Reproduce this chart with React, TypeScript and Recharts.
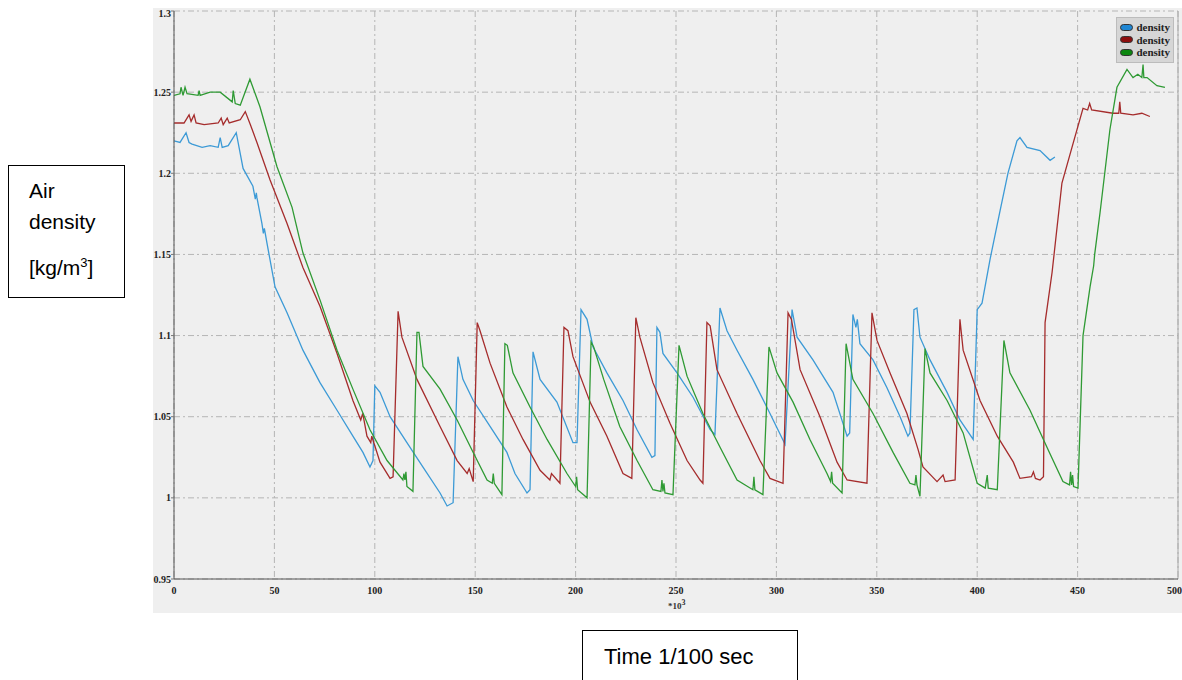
import React from 'react';
import { LineChart, Line, XAxis, YAxis, CartesianGrid, Legend, ReferenceLine } from 'recharts';

// [time (*10^3 / 100 s), density kg/m3]
const blueSeries = [
  [0, 1.22], [3, 1.219], [6, 1.225], [7.5, 1.219], [9, 1.218], [14, 1.216], [18, 1.217], [22, 1.216],
  [23, 1.222], [24, 1.216], [27, 1.217], [31, 1.225], [34.4, 1.203], [39.3, 1.192], [40.5, 1.184],
  [41, 1.188], [41.3, 1.185], [43.8, 1.169], [44.5, 1.163], [45, 1.166], [46.3, 1.157], [50.3, 1.13],
  [56.3, 1.114], [64.2, 1.091], [72.7, 1.071], [81.2, 1.054], [89.1, 1.038], [94.1, 1.028],
  [97.6, 1.019], [99.1, 1.023], [100, 1.069], [102.6, 1.065], [107.6, 1.05], [116, 1.034],
  [124, 1.019], [132.5, 1.003], [136, 0.995], [139, 0.997], [141.4, 1.087], [143.9, 1.073],
  [149, 1.06], [157.4, 1.044], [165.8, 1.028], [169.8, 1.015], [175.8, 1.003], [177.3, 1.005],
  [178.8, 1.09], [182.3, 1.073], [190.7, 1.059], [198.7, 1.034], [200.7, 1.034], [202.7, 1.116],
  [205.7, 1.11], [208.7, 1.093], [215.6, 1.077], [223.6, 1.06], [230.6, 1.042], [238, 1.025],
  [239.5, 1.026], [240.5, 1.105], [242, 1.102], [243.5, 1.089], [250.5, 1.077], [258.5, 1.062],
  [267, 1.042], [269.4, 1.039], [271.9, 1.117], [275.4, 1.103], [280.4, 1.091], [288.3, 1.073],
  [296.8, 1.052], [304.3, 1.033], [307.8, 1.116], [310.3, 1.099], [318.2, 1.085], [328.2, 1.065],
  [335.2, 1.038], [336.5, 1.04], [338.1, 1.113], [339.6, 1.105], [340.3, 1.11], [341.6, 1.095],
  [348.1, 1.085], [355, 1.068], [361.6, 1.05], [365.5, 1.038], [366.5, 1.04], [368.5, 1.116],
  [370, 1.117], [371.5, 1.099], [376.5, 1.085], [385, 1.065], [391.4, 1.048], [398, 1.036],
  [400, 1.116], [402.4, 1.12], [406.4, 1.147], [411.4, 1.177], [415.3, 1.2], [419.8, 1.22],
  [421.3, 1.222], [424.8, 1.216], [431.3, 1.214], [436.3, 1.208], [438.7, 1.21],
];

const redSeries = [
  [0, 1.231], [5, 1.231], [7.5, 1.236], [8.5, 1.232], [10, 1.236], [11, 1.231], [15, 1.23], [22, 1.231],
  [23.5, 1.234], [24.5, 1.23], [26.5, 1.234], [27.5, 1.231], [33, 1.233], [35.5, 1.238], [38, 1.23],
  [41.3, 1.219], [47.8, 1.196], [56.3, 1.169], [64.2, 1.142], [72.7, 1.118], [81.2, 1.089],
  [89.1, 1.06], [93, 1.048], [94, 1.052], [96.1, 1.038], [98, 1.034], [98.5, 1.038], [102.6, 1.022],
  [107.6, 1.012], [109.1, 1.013], [111.6, 1.115], [113.5, 1.099], [121, 1.073], [132.5, 1.044],
  [141, 1.023], [146, 1.015], [147, 1.018], [149, 1.01], [151, 1.108], [152.4, 1.103], [157.4, 1.083],
  [165.8, 1.056], [173.8, 1.036], [182.3, 1.017], [187.2, 1.011], [188, 1.015], [192.2, 1.009],
  [194.2, 1.105], [196.2, 1.103], [198.7, 1.087], [207.2, 1.059], [215.6, 1.038], [223.6, 1.015],
  [228, 1.012], [230, 1.111], [232, 1.099], [238.5, 1.071], [247, 1.046], [255.5, 1.023], [262, 1.011],
  [263.4, 1.009], [265.4, 1.108], [267, 1.106], [270.4, 1.079], [280.4, 1.052], [291.8, 1.023],
  [296.8, 1.012], [303.3, 1.009], [305.8, 1.114], [307.5, 1.11], [311.8, 1.079], [321.7, 1.05],
  [330.2, 1.022], [335.2, 1.011], [345.1, 1.009], [347.6, 1.114], [350.1, 1.097], [356.6, 1.077],
  [365, 1.052], [370.5, 1.03], [373, 1.019], [380, 1.01], [383, 1.014], [384, 1.01], [389, 1.011],
  [391.4, 1.11], [393, 1.091], [401.4, 1.06], [410, 1.038], [418, 1.022], [421.3, 1.012], [427, 1.013],
  [428, 1.016], [429, 1.012], [431.3, 1.011], [433, 1.013], [433.8, 1.108], [437.3, 1.139],
  [442.2, 1.194], [447.2, 1.216], [452.7, 1.24], [455, 1.239], [456, 1.243], [457, 1.239],
  [467.6, 1.237], [470.5, 1.237], [471, 1.244], [471.5, 1.237], [477.6, 1.236], [482, 1.237], [486, 1.235],
];

const greenSeries = [
  [0, 1.248], [3, 1.249], [3.5, 1.253], [4.5, 1.248], [5.5, 1.253], [6.5, 1.249], [12, 1.248],
  [12.5, 1.251], [13, 1.248], [18, 1.25], [23, 1.25], [29, 1.244], [29.5, 1.251], [30.5, 1.243],
  [33, 1.242], [37.8, 1.258], [42.8, 1.241], [51.3, 1.204], [58.8, 1.179], [64.2, 1.151], [72.7, 1.122],
  [81.2, 1.091], [89.1, 1.067], [97.6, 1.042], [106.1, 1.023], [114, 1.011], [114.5, 1.015], [115, 1.011],
  [115.5, 1.016], [116, 1.007], [119, 1.004], [121, 1.102], [122, 1.102], [124, 1.081], [132.5, 1.067],
  [141, 1.048], [149, 1.028], [155.9, 1.011], [158.5, 1.009], [159, 1.015], [159.5, 1.009], [163.3, 1.002],
  [164.8, 1.095], [166, 1.094], [168.8, 1.077], [177.3, 1.056], [185.8, 1.036], [195.7, 1.015], [200, 1.007],
  [200.5, 1.013], [201, 1.005], [205.7, 1.0], [207.7, 1.096], [209, 1.093], [214, 1.073], [222, 1.044],
  [230.6, 1.023], [238.5, 1.005], [242.5, 1.004], [243, 1.011], [243.5, 1.004], [244, 1.009], [244.5, 1.003],
  [248.5, 1.002], [251.5, 1.094], [255.5, 1.075], [263.4, 1.052], [272, 1.031], [280.4, 1.011],
  [288.3, 1.005], [288.8, 1.013], [289.3, 1.005], [293.3, 1.002], [296.3, 1.093], [300.3, 1.077],
  [308.3, 1.059], [316.7, 1.036], [325.2, 1.015], [327, 1.01], [327.5, 1.016], [328, 1.009], [332.7, 1.003],
  [334.7, 1.095], [338.1, 1.073], [348.1, 1.052], [358.1, 1.028], [366.5, 1.009], [369, 1.008],
  [369.5, 1.014], [370, 1.008], [371.5, 1.001], [374, 1.092], [376.5, 1.077], [385, 1.06], [393, 1.04],
  [400, 1.009], [404, 1.006], [405, 1.014], [405.5, 1.006], [410, 1.005], [413.3, 1.097], [416.3, 1.077],
  [426.3, 1.054], [434.8, 1.031], [442.7, 1.01], [446, 1.008], [446.5, 1.016], [447, 1.008], [447.5, 1.014],
  [448, 1.007], [450.2, 1.006], [452.7, 1.1], [456.2, 1.13], [458, 1.143], [458.5, 1.15], [461.2, 1.176],
  [466.1, 1.227], [469.6, 1.253], [474.6, 1.264], [477.6, 1.259], [480, 1.261], [482, 1.259], [482.6, 1.267],
  [483, 1.259], [484.6, 1.259], [489.5, 1.254], [493.5, 1.253],
];

const xTicks = [0, 50, 100, 150, 200, 250, 300, 350, 400, 450, 500];
const yTicks = [0.95, 1, 1.05, 1.1, 1.15, 1.2, 1.25, 1.3];
const legendFills = ['#1f86d3', '#8c0d0d', '#0c870f'];

const toRows = (pts: number[][]) => pts.map(([t, d]) => ({ t, d }));

const tickFont = {
  fontFamily: '"Liberation Serif", "DejaVu Serif", serif',
  fontWeight: 700,
  fontSize: 10,
  fill: '#222',
};

const LegendBox = (props: any) => {
  const { payload } = props;
  return (
    <div
      style={{
        background: '#d6d6d6',
        border: '1px solid #bcbcbc',
        padding: '3px 3px 3px 3px',
        fontFamily: '"Liberation Serif", serif',
        fontWeight: 700,
        fontSize: 11,
        color: '#222',
      }}
    >
      {(payload || []).map((e: any, i: number) => (
        <div key={i} style={{ display: 'flex', alignItems: 'center', height: 12.5 }}>
          <span
            style={{
              width: 15,
              height: 7,
              borderRadius: 4,
              background: legendFills[i],
              border: '1px solid #333',
              marginRight: 3,
              boxSizing: 'border-box',
            }}
          />
          <span>{e.value}</span>
        </div>
      ))}
    </div>
  );
};

const App: React.FC = () => {
  return (
    <div style={{ position: 'absolute', left: 0, top: 0, width: 1182, height: 680, background: '#fff', overflow: 'hidden' }}>
      <div style={{ position: 'absolute', left: 153, top: 8, width: 1029, height: 605, background: '#efefef' }} />

      <div style={{ position: 'absolute', left: 130, top: 8 }}>
        <LineChart width={1052} height={605} margin={{ top: 3, right: 4, bottom: 10, left: 0 }}>
          <CartesianGrid stroke="#b5b5b5" strokeDasharray="6 3 2 3" />
          <XAxis
            dataKey="t"
            type="number"
            domain={[0, 500]}
            ticks={xTicks}
            allowDataOverflow
            height={24}
            tick={tickFont}
            tickLine={false}
            tickMargin={2}
            axisLine={{ stroke: '#555' }}
          />
          <YAxis
            type="number"
            domain={[0.95, 1.3]}
            ticks={yTicks}
            allowDataOverflow
            width={44}
            tick={tickFont}
            tickSize={3}
            tickMargin={0}
            tickLine={{ stroke: '#777' }}
            axisLine={{ stroke: '#555' }}
          />
          <ReferenceLine x={500} stroke="#a8a8a8" />
          <Legend
            layout="vertical"
            align="center"
            verticalAlign="middle"
            content={<LegendBox />}
            wrapperStyle={{ top: 9, left: 986, width: 58 }}
          />
          <Line data={toRows(blueSeries)} dataKey="d" name="density" type="linear" stroke="#3c9ad6" strokeWidth={1.3} dot={false} isAnimationActive={false} />
          <Line data={toRows(redSeries)} dataKey="d" name="density" type="linear" stroke="#a52c2c" strokeWidth={1.3} dot={false} isAnimationActive={false} />
          <Line data={toRows(greenSeries)} dataKey="d" name="density" type="linear" stroke="#2f9a34" strokeWidth={1.3} dot={false} isAnimationActive={false} />
        </LineChart>
      </div>

      <div
        style={{
          position: 'absolute',
          left: 668,
          top: 598,
          fontFamily: '"Liberation Serif", serif',
          fontWeight: 700,
          fontSize: 9,
          color: '#333',
        }}
      >
        *10<sup style={{ fontSize: 8 }}>3</sup>
      </div>

      <div
        style={{
          position: 'absolute',
          left: 8,
          top: 165,
          width: 117,
          height: 133,
          border: '1px solid #000',
          boxSizing: 'border-box',
          fontFamily: '"Liberation Sans", Arial, sans-serif',
          fontSize: 21,
          color: '#000',
        }}
      >
        <div style={{ position: 'absolute', left: 20, top: 14, lineHeight: '21px' }}>Air</div>
        <div style={{ position: 'absolute', left: 20, top: 45, lineHeight: '21px' }}>density</div>
        <div style={{ position: 'absolute', left: 20, top: 86, lineHeight: '21px' }}>
          [kg/m<sup style={{ fontSize: 13 }}>3</sup>]
        </div>
      </div>

      <div
        style={{
          position: 'absolute',
          left: 582,
          top: 630,
          width: 216,
          height: 60,
          border: '1px solid #000',
          boxSizing: 'border-box',
          fontFamily: '"Liberation Sans", Arial, sans-serif',
          fontSize: 22,
          color: '#000',
        }}
      >
        <div style={{ position: 'absolute', left: 21, top: 15, lineHeight: '22px' }}>Time 1/100 sec</div>
      </div>
    </div>
  );
};

export default App;
